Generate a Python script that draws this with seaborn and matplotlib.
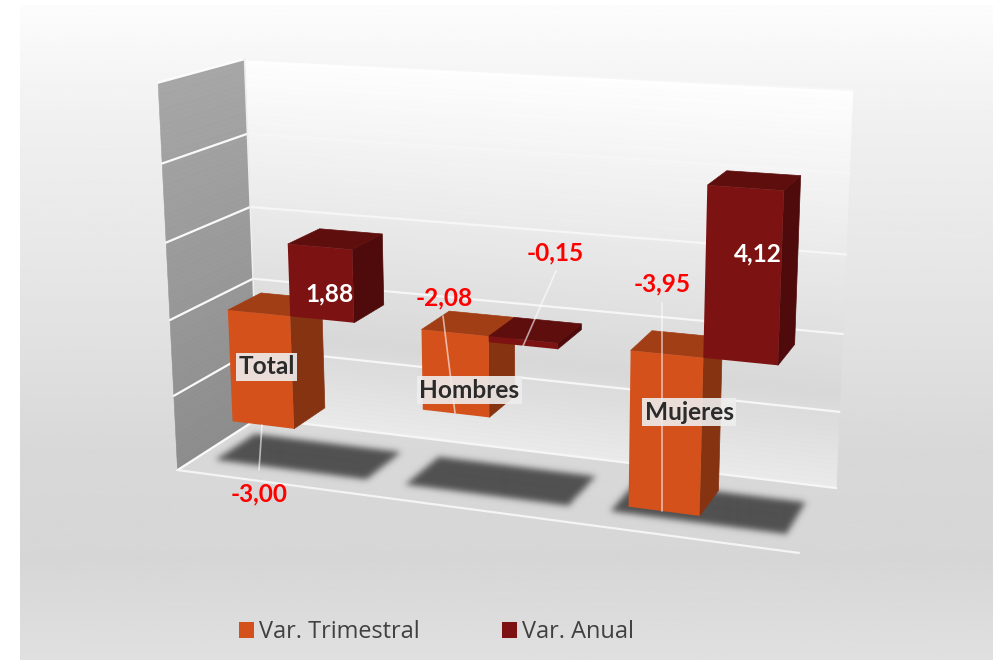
import numpy as np
import pandas as pd
import matplotlib
matplotlib.use("Agg")
import matplotlib.pyplot as plt
from matplotlib.patches import Polygon
from matplotlib.path import Path
from matplotlib.transforms import Transform
import seaborn as sns

categorias = ["Total", "Hombres", "Mujeres"]
series = ["Var. Trimestral", "Var. Anual"]
trimestral = [-3.00, -2.08, -3.95]
anual = [1.88, -0.15, 4.12]
colores = ["#D4511B", "#7D1212"]
z_ticks = [-4, -2, 0, 2, 4, 6]

# pixel positions of the chart box corners, used to calibrate the camera
CAL_3D = [(0, 0, -4), (0, 0, 0), (0, 0, 6), (0, 1, -4), (0, 1, 0), (0, 1, 6),
          (3, 1, -4), (3, 1, 0), (3, 1, 6), (3, 0, -4)]
CAL_PX = [(177, 470), (170, 320), (158.7, 82.7), (259, 418), (253, 279), (244, 59),
          (836, 488), (843, 334), (853, 90), (799, 553)]
Y_FRONT, Y_BACK = 0.30, 0.71
BAR_WIDTH = 0.66
SHADOW_SHIFT, SHADOW_HALF = 0.0, 0.40
SHADOW_Y = (0.23, 0.72)

# label positions in pixels
POS_ROJO = [(259, 494), (444, 298), (555, 253), (662, 284)]
LEADERS = [((262, 425), (259, 470)), ((443, 316), (455, 413)),
           ((556, 271), (523, 346)), ((662, 303), (662, 511))]
POS_BLANCO = {0: (330, 294), 2: (758, 254)}
POS_CAT = [(266.5, 367), (469.5, 390), (689, 412)]


def fit_camera():
    rows = []
    for (x, y, z), (u, v) in zip(CAL_3D, CAL_PX):
        u, v = u / 1000, v / 1000
        rows.append([x, y, z, 1, 0, 0, 0, 0, -u * x, -u * y, -u * z, -u])
        rows.append([0, 0, 0, 0, x, y, z, 1, -v * x, -v * y, -v * z, -v])
    _, _, vt = np.linalg.svd(np.array(rows, dtype=float))
    return vt[-1].reshape(3, 4)


CAM = fit_camera()


def project(x, y, z):
    x, y, z = np.broadcast_arrays(np.asarray(x, float), np.asarray(y, float), np.asarray(z, float))
    h = CAM @ np.vstack([x.ravel(), y.ravel(), z.ravel(), np.ones(x.size)])
    return np.column_stack([h[0] / h[2], h[1] / h[2]]) * 1000


class FaceTransform(Transform):
    # seaborn bar coords -> pixels, on the plane of the bar front
    input_dims = 2
    output_dims = 2
    is_affine = False

    def __init__(self, plane):
        super().__init__()
        self.plane = plane

    def transform_non_affine(self, xy):
        xy = np.asarray(xy, float)
        return project(xy[:, 0] + 0.5, self.plane, xy[:, 1])


def shade(color, k):
    return tuple(c * k for c in matplotlib.colors.to_rgb(color))


def blur(img, sigma):
    t = np.arange(-3 * int(sigma + 1), 3 * int(sigma + 1) + 1)
    kernel = np.exp(-t ** 2 / (2 * sigma ** 2))
    kernel /= kernel.sum()
    img = np.apply_along_axis(np.convolve, 0, img, kernel, mode="same")
    return np.apply_along_axis(np.convolve, 1, img, kernel, mode="same")


sns.set_theme(style="white")
plt.rcParams["font.family"] = ["Open Sans", "DejaVu Sans"]

df = pd.DataFrame({
    "categoria": categorias * 2,
    "serie": [series[0]] * 3 + [series[1]] * 3,
    "valor": trimestral + anual,
})

fig = plt.figure(figsize=(9.97, 6.6), dpi=100)
ax = fig.add_axes([0, 0, 1, 1])
sns.barplot(data=df, x="categoria", y="valor", hue="serie", order=categorias, hue_order=series,
            palette=colores, saturation=1, width=BAR_WIDTH, gap=0, errorbar=None, linewidth=0, ax=ax)

# background
bg = np.interp(np.linspace(5, 660, 300), [5, 120, 300, 450, 560, 660], [252, 240, 228, 216, 214, 224]) / 255
ax.imshow(bg[:, None], cmap="gray", vmin=0, vmax=1, extent=(20, 992, 660, 5), aspect="auto", zorder=0)

# walls as thin strips, to get the gradient
zs = np.linspace(-4, 6, 81)
for z0, z1 in zip(zs[:-1], zs[1:]):
    g = np.interp((z0 + z1) / 2, [-4, -3, -1.5, 1, 6], [234, 226, 216, 229, 254]) / 255
    ax.add_patch(Polygon(project([0, 3, 3, 0], 1, [z0, z0, z1, z1]), fc=(g, g, g), ec=(g, g, g), lw=0.4, zorder=1))
    g = np.interp((z0 + z1) / 2, [-4, 6], [140, 166]) / 255
    ax.add_patch(Polygon(project(0, [0, 1, 1, 0], [z0, z0, z1, z1]), fc=(g, g, g), ec=(g, g, g), lw=0.4, zorder=1))

# gridlines
for z in z_ticks:
    pts = project([0, 0, 3], [0, 1, 1], z)
    ax.plot(pts[:2, 0], pts[:2, 1], color="white", lw=1.6, alpha=0.95, zorder=2)
    ax.plot(pts[1:, 0], pts[1:, 1], color="#f6f6f6", lw=1.6, zorder=2)
pts = project([0, 3], 0, -4)
ax.plot(pts[:, 0], pts[:, 1], color="#f4f4f4", lw=1.6, zorder=2)
pts = project(0, 1, [-4, 6])
ax.plot(pts[:, 0], pts[:, 1], color="#eeeeee", lw=1.2, zorder=2)

# bars are seaborn's rectangles, moved into the box, plus their side and top faces
for s, bars in enumerate(ax.containers):
    for bar in bars:
        x0, x1 = bar.get_x() + 0.5, bar.get_x() + bar.get_width() + 0.5
        v = bar.get_height()
        col = bar.get_facecolor()
        bar.set_transform(FaceTransform(Y_FRONT) + ax.transData)
        bar.set_zorder(6 + 2 * s)
        low, high = min(0, v), max(0, v)
        side = project(x1, [Y_FRONT, Y_BACK, Y_BACK, Y_FRONT], [low, low, high, high])
        top = project([x0, x1, x1, x0], [Y_FRONT, Y_FRONT, Y_BACK, Y_BACK], high)
        ax.add_patch(Polygon(side, fc=shade(col, 0.63), ec=shade(col, 0.63), lw=0.5, zorder=5 + 2 * s))
        ax.add_patch(Polygon(top, fc=shade(col, 0.76), ec=shade(col, 0.76), lw=0.5, zorder=5 + 2 * s))

# soft shadows on the floor, one under each group
gx, gy = np.meshgrid(np.arange(997) + 0.5, np.arange(660) + 0.5)
grid = np.column_stack([gx.ravel(), gy.ravel()])
mask = np.zeros(gx.shape)
for i in range(len(categorias)):
    cx = i + 0.5 + SHADOW_SHIFT
    foot = project([cx - SHADOW_HALF, cx + SHADOW_HALF, cx + SHADOW_HALF, cx - SHADOW_HALF],
                   [SHADOW_Y[0], SHADOW_Y[0], SHADOW_Y[1], SHADOW_Y[1]], -4)
    mask[Path(foot).contains_points(grid).reshape(gx.shape)] = 1
rgba = np.zeros(gx.shape + (4,))
rgba[..., :3] = 0x50 / 255
rgba[..., 3] = blur(mask, 3.2)
ax.imshow(rgba, extent=(0, 997, 660, 0), aspect="auto", zorder=3)

# labels
fmt = lambda v: f"{v:.2f}".replace(".", ",")
rojos = [trimestral[0], trimestral[1], anual[1], trimestral[2]]
for v, (x, y), (a, b) in zip(rojos, POS_ROJO, LEADERS):
    ax.plot([a[0], b[0]], [a[1], b[1]], color="white", lw=1.2, alpha=0.6, zorder=10)
    ax.text(x, y, fmt(v), color="#FF0000", fontsize=17.6, fontweight="bold", family="Lato",
            ha="center", va="center", zorder=12)
for i, (x, y) in POS_BLANCO.items():
    ax.text(x, y, fmt(anual[i]), color="white", fontsize=17.6, fontweight="bold", family="Lato",
            ha="center", va="center", zorder=12)
for name, (x, y) in zip(categorias, POS_CAT):
    ax.text(x, y, name, color="#2b2b2b", fontsize=17.6, fontweight="bold", family="Lato", ha="center", va="center",
            zorder=11, bbox=dict(boxstyle="square,pad=0.1", fc="#eeeeee", ec="none", alpha=0.9))

ax.set_xlim(0, 997)
ax.set_ylim(660, 0)
ax.axis("off")

sns.move_legend(ax, "center left", bbox_to_anchor=(239 / 997, 1 - 632 / 660), bbox_transform=fig.transFigure,
                ncol=2, frameon=False, title=None, fontsize=16.9, labelcolor="#404040",
                handlelength=0.64, handleheight=0.64, handletextpad=0.22, columnspacing=3.5,
                borderpad=0, borderaxespad=0)

plt.savefig("out.png", dpi=100)
